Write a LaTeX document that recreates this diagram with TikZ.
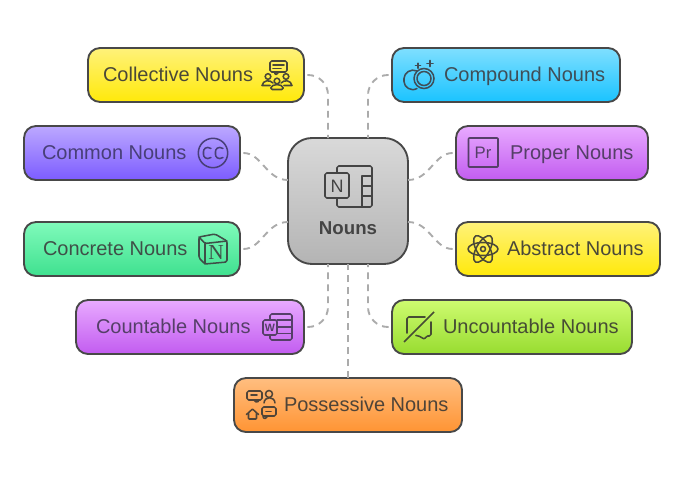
\documentclass[tikz,border=0pt]{standalone}
\usepackage{fontspec}
\setmainfont{Liberation Sans}
\newfontfamily\serifN{Liberation Serif}
\usetikzlibrary{calc}
\definecolor{inkY}{HTML}{4A4838}
\definecolor{inkV}{HTML}{483F78}
\definecolor{inkG}{HTML}{3F4F48}
\definecolor{inkP}{HTML}{553F68}
\definecolor{inkO}{HTML}{4F4438}
\definecolor{inkB}{HTML}{3F4E58}
\definecolor{inkL}{HTML}{464C34}
\definecolor{inkC}{HTML}{444444}
\definecolor{edge}{HTML}{484848}
\definecolor{linkgrey}{HTML}{ABABAB}
\tikzset{
  card/.style={draw=edge,line width=1.4pt,rounded corners=9pt,outer sep=0pt,inner sep=0pt,shade,shading angle=0,minimum height=40.5pt},
  hub/.style={draw=edge,line width=1.4pt,rounded corners=18pt,outer sep=0pt,inner sep=0pt,top color=hubT,bottom color=hubB,minimum width=90pt,minimum height=94.5pt},
  yellowcard/.style={card,top color=yelT,bottom color=yelB},
  violetcard/.style={card,top color=vioT,bottom color=vioB},
  greencard/.style={card,top color=greT,bottom color=greB},
  purplecard/.style={card,top color=purT,bottom color=purB},
  orangecard/.style={card,top color=oraT,bottom color=oraB},
  bluecard/.style={card,top color=bluT,bottom color=bluB},
  limecard/.style={card,top color=limT,bottom color=limB},
  label/.style={inner sep=0pt,outer sep=0pt,anchor=base west,font=\fontsize{15pt}{17pt}\selectfont},
  link/.style={draw=linkgrey,line width=1.4pt,dash pattern=on 5pt off 4pt,shorten <=2.5pt},
  glyph/.style={line width=1.15pt,line cap=round,line join=round,rounded corners=1.2pt},
}
\definecolor{hubT}{HTML}{D9D9D9}\definecolor{hubB}{HTML}{B4B4B4}
\definecolor{yelT}{HTML}{FFF27A}\definecolor{yelB}{HTML}{FFE90A}
\definecolor{vioT}{HTML}{BCA8FF}\definecolor{vioB}{HTML}{7C5CFF}
\definecolor{greT}{HTML}{80FBBB}\definecolor{greB}{HTML}{3FE08F}
\definecolor{purT}{HTML}{E8AAFF}\definecolor{purB}{HTML}{C25CF0}
\definecolor{oraT}{HTML}{FFBE80}\definecolor{oraB}{HTML}{FF9433}
\definecolor{bluT}{HTML}{7FDFFF}\definecolor{bluB}{HTML}{1AC3FF}
\definecolor{limT}{HTML}{CEFB70}\definecolor{limB}{HTML}{98DC30}
\begin{document}
\begin{tikzpicture}[x=.75pt,y=-.75pt]
\useasboundingbox (0,0) rectangle (684,481);
\fill[white] (0,0) rectangle (684,481);
% boxes
\node[hub] (center) at (348,201) {};
\node[yellowcard,minimum width=162pt] (collective) at (196,75) {};
\node[violetcard,minimum width=162pt] (common) at (132,153) {};
\node[greencard,minimum width=162pt] (concrete) at (132,249) {};
\node[purplecard,minimum width=171pt] (countable) at (190,327) {};
\node[orangecard,minimum width=171pt] (possessive) at (348,405) {};
\node[bluecard,minimum width=171pt] (compound) at (506,75) {};
\node[purplecard,minimum width=144pt] (proper) at (552,153) {};
\node[yellowcard,minimum width=153pt] (abstract) at (558,249) {};
\node[limecard,minimum width=180pt] (uncountable) at (512,327) {};
% connectors
\draw[link,rounded corners=15pt] (collective.east) -| ($(center.north)+(-20,0)$);
\draw[link,rounded corners=15pt] (compound.west) -| ($(center.north)+(20,0)$);
\draw[link,rounded corners=15pt] (countable.east) -| ($(center.south)+(-20,0)$);
\draw[link,rounded corners=15pt] (uncountable.west) -| ($(center.south)+(20,0)$);
\draw[link,shorten <=0pt] (possessive.north) -- (center.south);
\draw[link] (common.east) .. controls +(22,0) and +(-22,0) .. ($(center.west)+(0,-21)$);
\draw[link] (concrete.east) .. controls +(22,0) and +(-22,0) .. ($(center.west)+(0,21)$);
\draw[link] (proper.west) .. controls +(-22,0) and +(22,0) .. ($(center.east)+(0,-21)$);
\draw[link] (abstract.west) .. controls +(-22,0) and +(22,0) .. ($(center.east)+(0,21)$);
% labels
\node[label,text=inkY] (tcollective) at (103,81.5) {Collective Nouns};
\node[label,text=inkV] (tcommon) at (42,159.5) {Common Nouns};
\node[label,text=inkG] (tconcrete) at (43,255.5) {Concrete Nouns};
\node[label,text=inkP] (tcountable) at (96,333.5) {Countable Nouns};
\node[label,text=inkO] (tpossessive) at (284,411.5) {Possessive Nouns};
\node[label,text=inkB] (tcompound) at (444,81.5) {Compound Nouns};
\node[label,text=inkP] (tproper) at (510,159.5) {Proper Nouns};
\node[label,text=inkY] (tabstract) at (507,255.5) {Abstract Nouns};
\node[label,text=inkL] (tuncountable) at (443,333.5) {Uncountable Nouns};
\node[inner sep=0pt,anchor=base,text=inkC,font=\fontsize{14pt}{17pt}\selectfont\bfseries] (tcenter) at (348,234.5) {Nouns};
% hub icon
\begin{scope}[glyph]
\draw[inkC] (337,173) -- (337,166) -- (372,166) -- (372,207) -- (337,207) -- (337,198);
\draw[inkC] (325,173) rectangle (349,198);
\draw[inkC] (362,176) -- (362,207);
\draw[inkC] (362,176) -- (372,176) (362,186) -- (372,186) (362,196) -- (372,196);
\node[inner sep=0pt,text=inkC,font=\fontsize{13.5pt}{13pt}\selectfont] (hubN) at (337,186) {N};
\end{scope}
% collective icon
\begin{scope}[glyph,inkY]
\draw (270,61) rectangle (287,72);
\draw (273,65) -- (284,65) (273,68.5) -- (281,68.5);
\draw (275,72) -- (275,75.5) -- (279,72);
\draw (268,76.5) circle[radius=2.8];
\draw (286,76.5) circle[radius=2.8];
\draw (277,81) circle[radius=2.8];
\draw (262,85.5) .. controls (263,80) and (270,79.5) .. (273,83) (262,85.5) -- (270,85.5);
\draw (292,85.5) .. controls (291,80) and (284,79.5) .. (281,83) (292,85.5) -- (284,85.5);
\draw (270.5,89.5) .. controls (271.5,83.5) and (282.5,83.5) .. (283.5,89.5) -- cycle;
\end{scope}
% cc icon
\begin{scope}[glyph,inkV]
\draw (213,153) circle[radius=14.7];
\draw (211,148.5) .. controls (206,145.5) and (203.5,149.5) .. (203.5,153) .. controls (203.5,156.5) and (206,160.5) .. (211,157.5);
\draw (223,148.5) .. controls (218,145.5) and (215.5,149.5) .. (215.5,153) .. controls (215.5,156.5) and (218,160.5) .. (223,157.5);
\end{scope}
% notion icon
\begin{scope}[glyph,inkG]
\draw (199,237) -- (215,234) -- (227,241) -- (227,262) -- (205,264) -- (199,258) -- cycle;
\draw (199,237) -- (205,243.5) -- (227,241);
\draw (205,243.5) -- (205,264);
\node[inner sep=0pt,text=inkG,font=\fontsize{16pt}{16pt}\selectfont\serifN] (notionN) at (216,253) {N};
\end{scope}
% word icon
\begin{scope}[glyph,inkP]
\draw (270,320) -- (270,314) -- (292,314) -- (292,340) -- (270,340) -- (270,335);
\draw (263,320) rectangle (277,335);
\draw (277,320) -- (292,320) (277,327) -- (292,327) (277,333.5) -- (292,333.5);
\node[inner sep=0pt,text=inkP,font=\fontsize{8pt}{8pt}\selectfont\bfseries] (wordW) at (270,327.5) {W};
\end{scope}
% possessive icon
\begin{scope}[glyph,inkO]
\draw (247,391) rectangle (262,400);
\draw (251,395) -- (257,395);
\draw (254,400) -- (257,403) -- (259,400);
\draw (269,394) circle[radius=3.5];
\draw (264,403) .. controls (264.5,396) and (274.5,396) .. (275,403);
\draw[rounded corners=0.5pt] (246.5,414.5) -- (252.5,409) -- (258.5,414.5);
\draw[rounded corners=0.5pt] (248.5,413.5) -- (248.5,419) -- (256.5,419) -- (256.5,413.5);
\draw (262,407) rectangle (276,416);
\draw (266,411.5) -- (271,411.5);
\draw (263,416) -- (264,419.5) -- (268,416);
\end{scope}
% compound icon
\begin{scope}[glyph,inkB]
\draw (424,78.5) circle[radius=10];
\draw (424,78.5) circle[radius=7];
\draw (417,71) .. controls (411,68) and (404,73) .. (404,80) .. controls (404,87) and (411,92) .. (417,88.5);
\draw (415.5,65.7) -- (420.5,65.7) (418,63.2) -- (418,68.2);
\draw (427,63.5) -- (433,63.5) (430,60.5) -- (430,66.5);
\end{scope}
% proper icon
\begin{scope}[glyph,inkP]
\draw[rounded corners=0.6pt] (468.5,138) rectangle (498,167);
\node[inner sep=0pt,text=inkP,font=\fontsize{12.5pt}{13pt}\selectfont] (properPr) at (483,153) {Pr};
\end{scope}
% abstract icon
\begin{scope}[glyph,inkY]
\draw (483,249) ellipse[x radius=15,y radius=6.5];
\draw[rotate around={60:(483,249)}] (483,249) ellipse[x radius=15,y radius=6.5];
\draw[rotate around={-60:(483,249)}] (483,249) ellipse[x radius=15,y radius=6.5];
\draw (483,249) circle[radius=2.5];
\end{scope}
% uncountable icon
\begin{scope}[glyph,inkL]
\draw (425,317) -- (407,317) -- (407,333);
\draw (431,322) -- (431,336) -- (426,336) -- (425,339.5) -- (418,335.5) -- (416,335.5);
\draw[line cap=butt] (404,342) -- (434,312);
\end{scope}
\end{tikzpicture}
\end{document}
